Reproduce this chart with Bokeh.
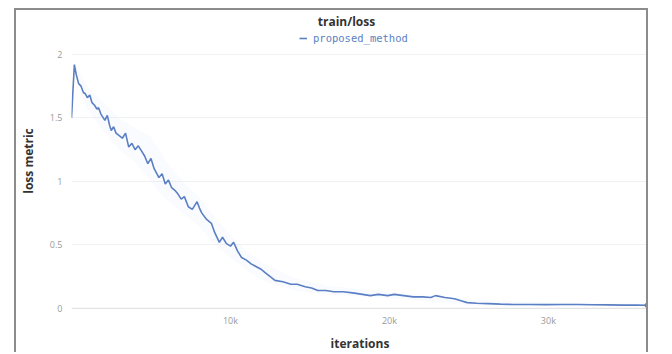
from bokeh.plotting import figure
from bokeh.models import Range1d, FixedTicker, Legend, LegendItem, Span, Label
from bokeh.embed import file_html
from bokeh.resources import INLINE

# ---- data (iterations, smoothed loss) ----
iterations = [0, 180, 300, 450, 600, 750, 870, 1000, 1150, 1290, 1450, 1600, 1700, 1850,
              2000, 2100, 2250, 2400, 2500, 2650, 2800, 3000, 3200, 3400, 3600, 3800,
              4000, 4200, 4400, 4600, 4800, 5000, 5200, 5500, 5700, 5900, 6100, 6300,
              6500, 6700, 6900, 7100, 7350, 7600, 7900, 8050, 8200, 8500, 8800, 9000,
              9300, 9500, 9750, 10000, 10200, 10450, 10700, 11000, 11300, 11600, 11900,
              12200, 12500, 12800, 13300, 13800, 14200, 14700, 15100, 15500, 16000,
              16500, 17100, 17800, 18300, 18800, 19300, 19900, 20300, 20900, 21500,
              22100, 22600, 22900, 23500, 24100, 24500, 24900, 25500, 26200, 27000,
              27800, 28800, 29800, 30800, 31800, 32800, 33800, 34800, 35600, 36200]
loss = [1.50, 1.92, 1.84, 1.77, 1.75, 1.70, 1.69, 1.66, 1.68, 1.62, 1.60, 1.57, 1.58, 1.53,
        1.50, 1.48, 1.52, 1.44, 1.40, 1.43, 1.38, 1.36, 1.34, 1.38, 1.27, 1.30,
        1.25, 1.28, 1.24, 1.20, 1.14, 1.18, 1.10, 1.03, 1.06, 0.98, 1.01, 0.95,
        0.93, 0.90, 0.86, 0.88, 0.80, 0.78, 0.84, 0.79, 0.75, 0.70, 0.67, 0.60,
        0.52, 0.56, 0.51, 0.49, 0.52, 0.45, 0.40, 0.38, 0.35, 0.33, 0.31,
        0.28, 0.25, 0.22, 0.21, 0.19, 0.19, 0.17, 0.16, 0.14, 0.14,
        0.13, 0.13, 0.12, 0.11, 0.10, 0.11, 0.10, 0.11, 0.10, 0.09,
        0.09, 0.085, 0.10, 0.085, 0.076, 0.06, 0.045, 0.04, 0.037, 0.033,
        0.03, 0.03, 0.029, 0.03, 0.03, 0.028, 0.027, 0.025, 0.026, 0.024]

# faint raw-value envelope
band_iterations = [200, 1000, 2000, 3000, 4000, 5000, 6000, 7000, 8000, 9000, 10000,
                   11000, 12000, 14000, 16000, 20000, 25000, 30000, 36200]
band_upper = [1.93, 1.75, 1.62, 1.50, 1.42, 1.35, 1.15, 1.00, 0.88, 0.72, 0.58,
              0.45, 0.36, 0.24, 0.18, 0.13, 0.07, 0.045, 0.035]
band_lower = [1.85, 1.56, 1.40, 1.25, 1.15, 1.00, 0.85, 0.75, 0.65, 0.50, 0.40,
              0.30, 0.22, 0.14, 0.11, 0.08, 0.025, 0.02, 0.018]

x_ticks = [10000, 20000, 30000]
x_tick_labels = ["10k", "20k", "30k"]
y_ticks = [0, 0.5, 1, 1.5, 2]
y_tick_labels = ["0", "0.5", "1", "1.5", "2"]

series_name = "proposed_method"
chart_title = "train/loss"
x_label = "iterations"
y_label = "loss metric"

LINE = "#5b7fc4"

p = figure(width=634, height=344, x_range=Range1d(0, 36300), y_range=Range1d(-0.025, 2.346),
           output_backend="svg", toolbar_location=None,
           min_border_left=54, min_border_right=2, min_border_top=0, min_border_bottom=0)
p.styles = {"border-top": "2px solid #8c8c8c", "border-left": "2px solid #8c8c8c",
            "border-right": "2px solid #8c8c8c", "margin-left": "14px", "margin-top": "8px"}
p.outline_line_color = None
p.background_fill_color = "white"
p.border_fill_color = "white"

p.varea(x=band_iterations, y1=band_lower, y2=band_upper, fill_color="#bcd0ee", fill_alpha=0.08)
r = p.line(iterations, loss, line_color=LINE, line_width=1.6)
p.scatter([iterations[-1]], [loss[-1]], size=4, color=LINE)

p.add_layout(Span(location=0, dimension="width", line_color="#dedede", line_width=1))

p.xgrid.grid_line_color = None
p.ygrid.grid_line_color = "#f1f1f1"
p.ygrid.ticker = FixedTicker(ticks=y_ticks)

for ax in (p.xaxis[0], p.yaxis[0]):
    ax.axis_line_color = None
    ax.major_tick_line_color = None
    ax.minor_tick_line_color = None
    ax.major_tick_out = 0
    ax.major_tick_in = 0
    ax.minor_tick_out = 0
    ax.minor_tick_in = 0
    ax.major_label_text_color = "#9a9a9a"
    ax.major_label_text_font = "Open Sans"
    ax.major_label_text_font_size = "9px"
    ax.axis_label_text_font = "Open Sans"
    ax.axis_label_text_font_style = "bold"
    ax.axis_label_text_font_size = "12px"
    ax.axis_label_text_color = "#333333"

p.xaxis.ticker = FixedTicker(ticks=x_ticks)
p.xaxis.major_label_overrides = dict(zip(x_ticks, x_tick_labels))
p.yaxis.ticker = FixedTicker(ticks=y_ticks)
p.yaxis.major_label_overrides = dict(zip(y_ticks, y_tick_labels))
p.xaxis.axis_label = x_label
p.yaxis.axis_label = y_label
p.xaxis.major_label_standoff = 2
p.xaxis.axis_label_standoff = 5
p.yaxis.major_label_standoff = 9
p.yaxis.axis_label_standoff = 10

legend = Legend(items=[LegendItem(label=series_name, renderers=[r])],
                orientation="horizontal", location=(228, 267),
                label_text_font="DejaVu Sans Mono", label_text_font_size="10.5px",
                label_text_color=LINE, glyph_width=8, glyph_height=8,
                label_standoff=6, padding=0, margin=0, spacing=0,
                border_line_color=None, background_fill_alpha=0)
p.add_layout(legend, "center")

title = Label(x=275, y=290, x_units="screen", y_units="screen", text=chart_title,
              text_align="center", text_baseline="middle", text_font="Open Sans",
              text_font_size="12px", text_font_style="bold", text_color="#333333")
p.add_layout(title)

open("out.html", "w").write(file_html(p, INLINE))
